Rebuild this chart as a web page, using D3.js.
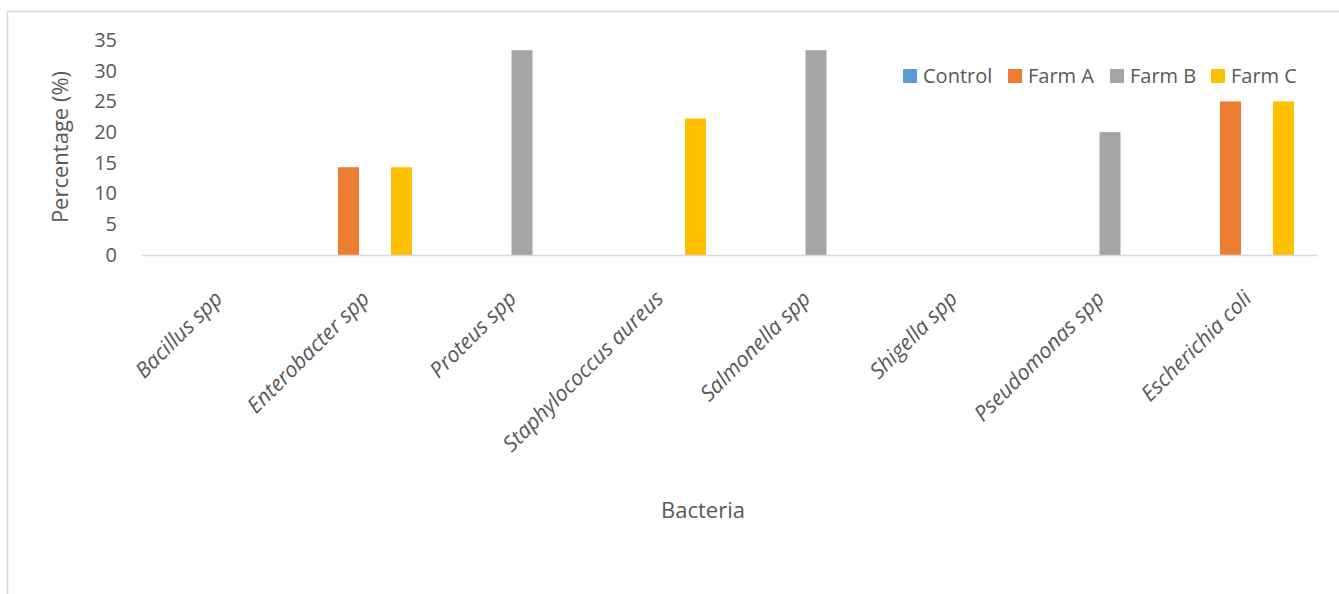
<!DOCTYPE html>
<html>
<head>
<meta charset="utf-8">
<script src="https://cdn.jsdelivr.net/npm/d3@7"></script>
<style>
  body { margin: 0; background: #fff; }
  text { font-family: "Open Sans", sans-serif; fill: #595959; }
</style>
</head>
<body>
<div id="vis"></div>
<script>
// data
const bacteria = ["Bacillus spp", "Enterobacter spp", "Proteus spp", "Staphylococcus aureus",
                  "Salmonella spp", "Shigella spp", "Pseudomonas spp", "Escherichia coli"];
const seriesNames = ["Control", "Farm A", "Farm B", "Farm C"];
const control = [0, 0, 0, 0, 0, 0, 0, 0];
const farmA   = [0, 14.29, 0, 0, 0, 0, 0, 25];
const farmB   = [0, 0, 33.33, 0, 33.33, 0, 20, 0];
const farmC   = [0, 14.29, 0, 22.22, 0, 0, 0, 25];
const yTicks  = [0, 5, 10, 15, 20, 25, 30, 35];

const W = 1339, H = 594;
const color = d3.scaleOrdinal().domain(seriesNames)
    .range(["#5b9bd5", "#ed7d31", "#a5a5a5", "#ffc000"]);

const svg = d3.select("#vis").append("svg")
    .attr("width", W).attr("height", H);

// outer chart border (only left and top are visible in the crop)
svg.append("rect")
    .attr("x", 7.5).attr("y", 11.5)
    .attr("width", W + 20).attr("height", H + 20)
    .attr("fill", "none").attr("stroke", "#d9d9d9").attr("stroke-width", 1.5);

const x0 = d3.scaleBand().domain(bacteria).range([141.25, 1317.25]).padding(0);
const x1 = d3.scaleBand().domain(seriesNames).range([0, x0.bandwidth()])
    .paddingInner(0.2075).paddingOuter(0.877);
const y = d3.scaleLinear().domain([0, 35]).range([255, 40]);

const rows = bacteria.map((b, i) => ({
    name: b,
    values: [control[i], farmA[i], farmB[i], farmC[i]]
}));

// y tick labels (no axis line, no gridlines)
const yAxis = svg.append("g")
    .attr("transform", "translate(141,0)")
    .call(d3.axisLeft(y).tickValues(yTicks).tickSize(0).tickPadding(24));
yAxis.select(".domain").remove();
yAxis.selectAll("text")
    .style("font-size", "20px")
    .style("font-family", "Open Sans, sans-serif")
    .attr("fill", "#595959");

// bars
svg.append("g").selectAll("g")
    .data(rows)
    .join("g")
    .attr("transform", d => `translate(${x0(d.name)},0)`)
    .selectAll("rect")
    .data(d => d.values.map((v, j) => ({key: seriesNames[j], value: v})))
    .join("rect")
    .attr("x", d => x1(d.key))
    .attr("width", x1.bandwidth())
    .attr("y", d => y(d.value))
    .attr("height", d => y(0) - y(d.value))
    .attr("fill", d => color(d.key));

// baseline axis
svg.append("line")
    .attr("x1", x0.range()[0]).attr("x2", x0.range()[1])
    .attr("y1", y(0) + 0.5).attr("y2", y(0) + 0.5)
    .attr("stroke", "#d9d9d9").attr("stroke-width", 1.5);

// category labels, rotated
svg.append("g").selectAll("text")
    .data(bacteria)
    .join("text")
    .attr("transform", d => `translate(${x0(d) + x0.bandwidth() / 2 + 9},300) rotate(-45)`)
    .attr("text-anchor", "end")
    .style("font-size", "21.5px")
    .style("font-style", "italic")
    .text(d => d);

// axis titles
svg.append("text")
    .attr("x", 703).attr("y", 518)
    .attr("text-anchor", "middle")
    .style("font-size", "22px")
    .text("Bacteria");

svg.append("text")
    .attr("transform", "translate(68,147) rotate(-90)")
    .attr("text-anchor", "middle")
    .style("font-size", "22px")
    .text("Percentage (%)");

// legend
const legendX = [903, 1008, 1110, 1211];
const legend = svg.append("g").selectAll("g")
    .data(seriesNames)
    .join("g")
    .attr("transform", (d, i) => `translate(${legendX[i]},69)`);
legend.append("rect")
    .attr("width", 14).attr("height", 14)
    .attr("fill", d => color(d));
legend.append("text")
    .attr("x", 20).attr("y", 14)
    .style("font-size", "20px")
    .text(d => d);
</script>
</body>
</html>
